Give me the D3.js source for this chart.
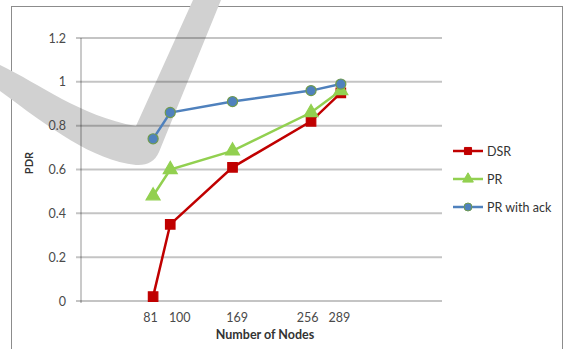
<!DOCTYPE html>
<html>
<head>
<meta charset="utf-8">
<script src="https://cdn.jsdelivr.net/npm/d3@7"></script>
<style>
  html, body { margin: 0; padding: 0; background: #fff; }
  svg { display: block; }
  text { font-family: Lato, "Open Sans", sans-serif; }
</style>
</head>
<body>
<svg id="chart" width="564" height="349"></svg>
<script>
// Node counts on the x axis and PDR per routing scheme
const nodes = [81, 100, 169, 256, 289];
const dsr = [0.02, 0.35, 0.61, 0.82, 0.95];
const pr = [0.48, 0.60, 0.685, 0.86, 0.96];
const prAck = [0.74, 0.86, 0.91, 0.96, 0.99];
const yTicks = [0, 0.2, 0.4, 0.6, 0.8, 1, 1.2];
const seriesNames = ["DSR", "PR", "PR with ack"];

const svg = d3.select("#chart");

const x = d3.scaleLinear().domain([0, 400]).range([80, 441]);
const y = d3.scaleLinear().domain([0, 1.2]).range([301, 38]);

// outer frame
svg.append("rect")
  .attr("x", 11.5).attr("y", 6.5).attr("width", 551).attr("height", 350)
  .attr("fill", "#fff").attr("stroke", "#8c8c8c").attr("stroke-width", 1);

// grey swoosh behind the plot
svg.append("path")
  .attr("d", "M0,65 C40,84 80,116 136,126 L193,0 L221,0 L159,152 Q153,166 136,165 C92,160 50,128 0,91 Z")
  .attr("fill", "#d1d1d1");

// y tick labels
const yAxis = d3.axisLeft(y).tickValues(yTicks).tickSize(0).tickPadding(10)
  .tickFormat(d => d === 0 ? "0" : d3.format("~g")(d));
const gy = svg.append("g").attr("transform", "translate(76,0)").call(yAxis);
gy.select(".domain").remove();
gy.selectAll("text").attr("fill", "#4a4a4a").attr("font-size", 12.5);

// horizontal gridlines, starting with a short stub left of the axis
svg.append("g").selectAll("line").data(yTicks).join("line")
  .attr("x1", 76).attr("x2", 442)
  .attr("y1", d => y(d)).attr("y2", d => y(d))
  .attr("stroke", "#000").attr("stroke-opacity", 0.23).attr("stroke-width", 2);

// vertical axis line
svg.append("line")
  .attr("x1", 81).attr("x2", 81).attr("y1", y(1.2)).attr("y2", y(0) + 2)
  .attr("stroke", "#000").attr("stroke-opacity", 0.28).attr("stroke-width", 1.5);

// x tick labels at the node counts, nudged apart where they crowd
const labelNudge = [-3, 9, 4, -4, -2];
const xAxis = d3.axisBottom(x).tickValues(nodes).tickSize(0).tickPadding(0);
const gx = svg.append("g").attr("transform", "translate(0,313)").call(xAxis);
gx.select(".domain").remove();
gx.selectAll("text").attr("fill", "#4a4a4a").attr("font-size", 12.5)
  .attr("dx", (d, i) => labelNudge[i]);

// axis titles
svg.append("text")
  .attr("x", 265).attr("y", 339).attr("text-anchor", "middle")
  .attr("font-size", 12.5).attr("font-weight", "bold").attr("fill", "#333")
  .text("Number of Nodes");
svg.append("text")
  .attr("transform", "translate(33,163) rotate(-90)")
  .attr("text-anchor", "middle")
  .attr("font-size", 11).attr("font-weight", "bold").attr("fill", "#333")
  .text("PDR");

const colors = ["#c00000", "#92d050", "#4f81bd"];
const allSeries = [dsr, pr, prAck];
const line = d3.line().x(d => x(d[0])).y(d => y(d[1]));

const symTypes = [d3.symbolSquare, d3.symbolTriangle, d3.symbolCircle];
const symSizes = [90, 85, 80];
const markerStroke = ["#c00000", "#92d050", "#6f9a4e"];

allSeries.forEach((vals, i) => {
  const pts = nodes.map((n, j) => [n, vals[j]]);
  svg.append("path").datum(pts)
    .attr("d", line).attr("fill", "none")
    .attr("stroke", colors[i]).attr("stroke-width", 2.5);
  svg.append("g").selectAll("path").data(pts).join("path")
    .attr("transform", d => `translate(${x(d[0])},${y(d[1])})`)
    .attr("d", d3.symbol().type(symTypes[i]).size(symSizes[i])())
    .attr("fill", colors[i])
    .attr("stroke", markerStroke[i]).attr("stroke-width", 1.2);
});

// legend
const legY = [151, 179, 207];
seriesNames.forEach((name, i) => {
  const g = svg.append("g").attr("transform", `translate(0,${legY[i]})`);
  g.append("line").attr("x1", 453).attr("x2", 483)
    .attr("stroke", colors[i]).attr("stroke-width", 2.5);
  g.append("path").attr("transform", "translate(468,0)")
    .attr("d", d3.symbol().type(symTypes[i]).size(50)())
    .attr("fill", colors[i]).attr("stroke", markerStroke[i]).attr("stroke-width", 1);
  g.append("text").attr("x", 487).attr("y", 4.5)
    .attr("font-size", 12.5).attr("fill", "#333").text(name);
});
</script>
</body>
</html>
